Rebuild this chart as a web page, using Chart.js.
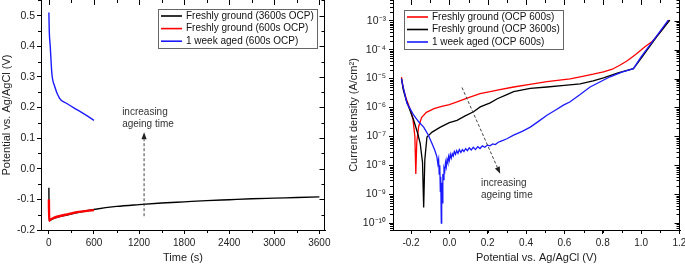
<!DOCTYPE html>
<html>
<head>
<meta charset="utf-8">
<script src="https://cdn.jsdelivr.net/npm/chart.js@4.4.1/dist/chart.umd.min.js"></script>
<style>
  body { margin: 0; background: #fff; }
  #wrap { position: relative; width: 685px; height: 266px; overflow: hidden; }
  canvas { position: absolute; top: 0; }
  #ocp { left: 0; }
  #pol { left: 340px; }
</style>
</head>
<body>
<div id="wrap">
  <canvas id="ocp" width="340" height="266"></canvas>
  <canvas id="pol" width="345" height="266"></canvas>
</div>
<script>
// ---- left panel: open circuit potential vs time ----
const ocpLabels = ["Freshly ground (3600s OCP)", "Freshly ground (600s OCP)", "1 week aged (600s OCP)"];
const fresh3600Time = [0, 3, 20, 60, 120, 240, 400, 600, 900, 1200, 1500, 1800, 2100, 2400, 2700, 3000, 3300, 3600];
const fresh3600Pot = [-0.062, -0.170, -0.168, -0.163, -0.158, -0.151, -0.142, -0.133, -0.123, -0.117, -0.112, -0.108, -0.104, -0.101, -0.098, -0.096, -0.094, -0.092];
const fresh600Time = [0, 4, 20, 60, 120, 240, 400, 600];
const fresh600Pot = [-0.100, -0.170, -0.166, -0.161, -0.156, -0.149, -0.141, -0.135];
const aged600Time = [0, 5, 18, 40, 75, 142, 239, 372, 483, 600];
const aged600Pot = [0.510, 0.450, 0.400, 0.310, 0.270, 0.230, 0.213, 0.193, 0.177, 0.158];
const timeTicks = [0, 600, 1200, 1800, 2400, 3000, 3600];
const potTicks = [-0.2, -0.1, 0.0, 0.1, 0.2, 0.3, 0.4, 0.5];

// ---- right panel: polarisation curves ----
const polLabels = ["Freshly ground (OCP 600s)", "Freshly ground (OCP 3600s)", "1 week aged (OCP 600s)"];
const fresh600E = [-0.250, -0.240, -0.225, -0.205, -0.190, -0.180, -0.175, -0.170, -0.160, -0.145, -0.120, -0.080, -0.040, 0.000, 0.040, 0.100, 0.160, 0.213, 0.250, 0.335, 0.420, 0.509, 0.630, 0.682, 0.750, 0.804, 0.850, 0.891, 0.930, 0.978, 1.020, 1.056, 1.100, 1.145];
const fresh600I = [1.12e-5, 4.5e-6, 2.0e-6, 8.9e-7, 4.0e-7, 1.0e-7, 5.0e-9, 6.3e-8, 2.2e-7, 4.5e-7, 6.8e-7, 9.1e-7, 1.1e-6, 1.26e-6, 1.55e-6, 2.2e-6, 3.0e-6, 3.5e-6, 4.0e-6, 5.1e-6, 6.3e-6, 7.8e-6, 9.8e-6, 1.15e-5, 1.41e-5, 1.7e-5, 2.1e-5, 2.95e-5, 4.2e-5, 7.4e-5, 1.26e-4, 1.86e-4, 4.0e-4, 1.05e-3];
const fresh3600E = [-0.250, -0.240, -0.225, -0.205, -0.186, -0.165, -0.152, -0.140, -0.134, -0.128, -0.117, -0.090, -0.047, 0.000, 0.040, 0.080, 0.126, 0.161, 0.213, 0.250, 0.300, 0.335, 0.422, 0.509, 0.600, 0.682, 0.750, 0.804, 0.880, 0.960, 1.000, 1.030, 1.082, 1.150];
const fresh3600I = [1.0e-5, 4.0e-6, 1.78e-6, 7.9e-7, 3.6e-7, 1.26e-7, 5.6e-8, 1.26e-8, 3.5e-10, 1.58e-8, 9.5e-8, 1.41e-7, 2.1e-7, 3.0e-7, 3.6e-7, 5.0e-7, 7.1e-7, 1.05e-6, 1.45e-6, 2.0e-6, 2.8e-6, 3.5e-6, 4.6e-6, 5.1e-6, 5.8e-6, 6.5e-6, 8.3e-6, 1.05e-5, 1.58e-5, 2.2e-5, 5.0e-5, 9.5e-5, 2.8e-4, 1.05e-3];
const aged600E = [-0.250, -0.244, -0.221, -0.200, -0.186, -0.160, -0.134, -0.110, -0.090, -0.075, -0.065, -0.060, -0.056, -0.053, -0.050, -0.047, -0.045, -0.042, -0.040, -0.037, -0.034, -0.031, -0.028, -0.024, -0.020, -0.016, -0.012, -0.008, -0.004, 0.000, 0.005, 0.010, 0.015, 0.020, 0.026, 0.032, 0.038, 0.045, 0.052, 0.060, 0.068, 0.076, 0.085, 0.094, 0.104, 0.114, 0.125, 0.136, 0.148, 0.160, 0.172, 0.185, 0.198, 0.212, 0.226, 0.240, 0.255, 0.270, 0.300, 0.335, 0.380, 0.422, 0.465, 0.509, 0.550, 0.595, 0.630, 0.682, 0.734, 0.790, 0.838, 0.900, 0.960, 1.000, 1.064, 1.142];
const aged600I = [1.0e-5, 6.3e-6, 1.38e-6, 7.9e-7, 5.4e-7, 3.2e-7, 2.1e-7, 1.12e-7, 5.6e-8, 3.2e-8, 1.95e-8, 1.12e-8, 1.58e-8, 5.0e-9, 1.0e-8, 1.26e-9, 4.0e-9, 1.0e-10, 2.5e-9, 5.0e-10, 5.0e-9, 3.2e-9, 7.9e-9, 6.3e-9, 1.26e-8, 8.9e-9, 1.58e-8, 1.26e-8, 2.0e-8, 1.5e-8, 2.4e-8, 1.78e-8, 2.5e-8, 2.1e-8, 3.0e-8, 2.4e-8, 3.2e-8, 2.6e-8, 3.5e-8, 2.8e-8, 3.5e-8, 3.0e-8, 3.8e-8, 3.2e-8, 4.0e-8, 3.4e-8, 4.2e-8, 3.5e-8, 4.4e-8, 3.8e-8, 4.7e-8, 4.2e-8, 5.0e-8, 4.7e-8, 5.5e-8, 5.2e-8, 6.3e-8, 6.9e-8, 8.3e-8, 1.1e-7, 1.5e-7, 2.1e-7, 3.3e-7, 5.4e-7, 7.9e-7, 1.2e-6, 1.58e-6, 2.8e-6, 5.1e-6, 7.9e-6, 1.15e-5, 1.66e-5, 2.2e-5, 5.6e-5, 2.1e-4, 1.05e-3];
const potentialTicks = [-0.2, 0.0, 0.2, 0.4, 0.6, 0.8, 1.0, 1.2];
const currentTicks = [1e-10, 1e-9, 1e-8, 1e-7, 1e-6, 1e-5, 1e-4, 1e-3];
const currentTickLabels = ["10⁻¹⁰", "10⁻⁹", "10⁻⁸", "10⁻⁷", "10⁻⁶", "10⁻⁵", "10⁻⁴", "10⁻³"];

const FONT = "'Liberation Sans', Arial, sans-serif";
Chart.defaults.font.family = FONT;
Chart.defaults.color = "#222";

function pts(xs, ys) {
  return xs.map((x, i) => ({ x: x, y: ys[i] }));
}

// mirrored ticks on top/right plus minor ticks, Origin style
const framePlugin = {
  id: "frame",
  afterDatasetsDraw(chart, args, o) {
    const ctx = chart.ctx, a = chart.chartArea;
    const xs = chart.scales.x, ys = chart.scales.y;
    const seg = (x1, y1, x2, y2) => { ctx.moveTo(x1, y1); ctx.lineTo(x2, y2); };
    ctx.save();
    ctx.strokeStyle = "#000";
    ctx.lineWidth = 1;
    ctx.beginPath();
    const R = Math.round(a.right) - 0.5;
    seg(R, a.top, R, a.bottom);
    xs.ticks.forEach(t => {
      const p = Math.round(xs.getPixelForValue(t.value)) + 0.5;
      seg(p, a.top, p, a.top + 5);
    });
    ys.ticks.forEach(t => {
      const p = Math.round(ys.getPixelForValue(t.value)) + 0.5;
      seg(R, p, R - 5, p);
    });
    const xm = [];
    for (let v = o.xMinor[0]; v <= xs.max; v += o.xMinor[1]) xm.push(v);
    xm.forEach(v => {
      if (v < xs.min) return;
      const p = Math.round(xs.getPixelForValue(v)) + 0.5;
      seg(p, a.bottom, p, a.bottom + 3);
      seg(p, a.top, p, a.top + 3);
    });
    const ym = [];
    if (o.yMinor === "log") {
      for (let n = -11; n <= -3; n++) for (let k = 2; k <= 9; k++) ym.push(k * Math.pow(10, n));
    } else {
      for (let v = o.yMinor[0]; v <= ys.max; v += o.yMinor[1]) ym.push(v);
    }
    ym.forEach(v => {
      if (v < ys.min || v > ys.max) return;
      const p = Math.round(ys.getPixelForValue(v)) + 0.5;
      seg(a.left, p, a.left - 3, p);
      seg(R, p, R - 3, p);
    });
    ctx.stroke();
    ctx.restore();
  }
};

// dashed arrow with caption
const notePlugin = {
  id: "note",
  afterDatasetsDraw(chart, args, o) {
    const ctx = chart.ctx, xs = chart.scales.x, ys = chart.scales.y;
    const x1 = xs.getPixelForValue(o.from[0]), y1 = ys.getPixelForValue(o.from[1]);
    const x2 = xs.getPixelForValue(o.to[0]), y2 = ys.getPixelForValue(o.to[1]);
    const ang = Math.atan2(y2 - y1, x2 - x1);
    const hl = 7, hw = 2.6;
    ctx.save();
    ctx.strokeStyle = "#444";
    ctx.fillStyle = "#222";
    ctx.lineWidth = 1;
    ctx.setLineDash([3, 2]);
    ctx.beginPath();
    ctx.moveTo(x1, y1);
    ctx.lineTo(x2 - Math.cos(ang) * hl, y2 - Math.sin(ang) * hl);
    ctx.stroke();
    ctx.setLineDash([]);
    ctx.beginPath();
    ctx.moveTo(x2, y2);
    ctx.lineTo(x2 - Math.cos(ang) * hl - Math.sin(ang) * hw, y2 - Math.sin(ang) * hl + Math.cos(ang) * hw);
    ctx.lineTo(x2 - Math.cos(ang) * hl + Math.sin(ang) * hw, y2 - Math.sin(ang) * hl - Math.cos(ang) * hw);
    ctx.closePath();
    ctx.fill();
    ctx.font = "10px " + FONT;
    ctx.fillStyle = "#333";
    ctx.textBaseline = "middle";
    const tx = xs.getPixelForValue(o.textAt[0]), ty = ys.getPixelForValue(o.textAt[1]);
    o.text.forEach((s, i) => ctx.fillText(s, tx, ty + i * 12.5));
    ctx.restore();
  }
};

// boxed legend inside the plot area
const boxLegend = {
  id: "boxLegend",
  afterDraw(chart, args, o) {
    const ctx = chart.ctx, a = chart.chartArea;
    const sets = chart.data.datasets;
    ctx.save();
    ctx.font = "10px " + FONT;
    const tw = Math.max(...sets.map(d => ctx.measureText(d.label).width));
    const w = Math.round(3 + 21 + 4 + tw + 3);
    const h = Math.round(sets.length * o.row + 1);
    const x0 = Math.round(o.right != null ? a.right - o.right - w : a.left + o.left);
    const y0 = Math.round(a.top + o.top);
    ctx.fillStyle = "#fff";
    ctx.fillRect(x0, y0, w, h);
    ctx.strokeStyle = "#666";
    ctx.lineWidth = 1;
    ctx.strokeRect(x0 + 0.5, y0 + 0.5, w, h);
    ctx.textBaseline = "middle";
    sets.forEach((d, i) => {
      const cy = y0 + 7 + i * o.row;
      ctx.strokeStyle = d.borderColor;
      ctx.lineWidth = 1.6;
      ctx.beginPath();
      ctx.moveTo(x0 + 3, cy);
      ctx.lineTo(x0 + 24, cy);
      ctx.stroke();
      ctx.fillStyle = "#111";
      ctx.fillText(d.label, x0 + 28, cy);
    });
    ctx.restore();
  }
};

function fixY(width) {
  return s => { s.width = width; s.paddingTop = 0; s.paddingBottom = 0; };
}
function fixX(s) { s.height = 36; s.paddingLeft = 0; s.paddingRight = 0; }

const axisCommon = {
  grid: { drawOnChartArea: false, drawTicks: true, tickLength: 4, color: "#000" },
  border: { display: true, color: "#000", width: 1 }
};

new Chart(document.getElementById("ocp"), {
  type: "line",
  data: {
    datasets: [
      { label: ocpLabels[0], data: pts(fresh3600Time, fresh3600Pot), borderColor: "#000", borderWidth: 1.4, order: 3 },
      { label: ocpLabels[1], data: pts(fresh600Time, fresh600Pot), borderColor: "#f00", borderWidth: 2.4, order: 2 },
      { label: ocpLabels[2], data: pts(aged600Time, aged600Pot), borderColor: "#1a1aff", borderWidth: 1.4, order: 1 }
    ]
  },
  options: {
    responsive: false,
    animation: false,
    layout: { padding: { left: 0, right: 15, top: 0, bottom: 0 } },
    elements: { point: { radius: 0 }, line: { cubicInterpolationMode: "monotone" } },
    plugins: {
      legend: { display: false },
      tooltip: { enabled: false },
      frame: { xMinor: [300, 600], yMinor: [-0.15, 0.1] },
      note: { from: [1267, -0.155], to: [1267, 0.119], textAt: [975, 0.186], text: ["increasing", "ageing time"] },
      boxLegend: { right: 8, top: 9, row: 12.6 }
    },
    scales: {
      x: {
        type: "linear", min: -105, max: 3675,
        ...axisCommon,
        afterBuildTicks: s => { s.ticks = timeTicks.map(v => ({ value: v })); },
        afterFit: fixX,
        ticks: { font: { size: 10 }, padding: 3, maxRotation: 0, callback: v => String(v) },
        title: { display: true, text: "Time (s)", font: { size: 11 }, color: "#222", padding: { top: 0, bottom: 1 } }
      },
      y: {
        type: "linear", min: -0.2, max: 0.551,
        ...axisCommon,
        afterBuildTicks: s => { s.ticks = potTicks.map(v => ({ value: v })); },
        afterFit: fixY(41),
        ticks: { font: { size: 10.5 }, padding: 2, callback: v => v.toFixed(1) },
        title: { display: true, text: "Potential vs. Ag/AgCl (V)", font: { size: 11 }, color: "#222", padding: 0 }
      }
    }
  },
  plugins: [framePlugin, notePlugin, boxLegend]
});

new Chart(document.getElementById("pol"), {
  type: "line",
  data: {
    datasets: [
      { label: polLabels[0], data: pts(fresh600E, fresh600I), borderColor: "#f00", borderWidth: 1.3, order: 3 },
      { label: polLabels[1], data: pts(fresh3600E, fresh3600I), borderColor: "#000", borderWidth: 1.3, order: 2 },
      { label: polLabels[2], data: pts(aged600E, aged600I), borderColor: "#1a1aff", borderWidth: 1.3, order: 1 }
    ]
  },
  options: {
    responsive: false,
    animation: false,
    layout: { padding: { left: 0, right: 5, top: 0, bottom: 0 } },
    elements: { point: { radius: 0 } },
    plugins: {
      legend: { display: false },
      tooltip: { enabled: false },
      frame: { xMinor: [-0.3, 0.1], yMinor: "log" },
      note: { from: [0.066, 4.9e-6], to: [0.265, 5.1e-9], textAt: [0.165, 2.4e-9], text: ["increasing", "ageing time"] },
      boxLegend: { left: 11, top: 10, row: 12.5 }
    },
    scales: {
      x: {
        type: "linear", min: -0.294, max: 1.203,
        ...axisCommon,
        afterBuildTicks: s => { s.ticks = potentialTicks.map(v => ({ value: v })); },
        afterFit: fixX,
        ticks: { font: { size: 10 }, padding: 3, maxRotation: 0, callback: v => v.toFixed(1) },
        title: { display: true, text: "Potential vs. Ag/AgCl (V)", font: { size: 11 }, color: "#222", padding: { top: 0, bottom: 1 } }
      },
      y: {
        type: "logarithmic", min: 5.8e-11, max: 5.2e-3,
        ...axisCommon,
        afterBuildTicks: s => { s.ticks = currentTicks.map(v => ({ value: v })); },
        afterFit: fixY(53),
        ticks: { font: { size: 10.5 }, padding: 3, callback: v => currentTickLabels[currentTicks.findIndex(t => Math.abs(Math.log10(t) - Math.log10(v)) < 1e-6)] },
        title: { display: true, text: "Current density (A/cm²)", font: { size: 11 }, color: "#222", padding: 7 }
      }
    }
  },
  plugins: [framePlugin, notePlugin, boxLegend]
});
</script>
</body>
</html>
